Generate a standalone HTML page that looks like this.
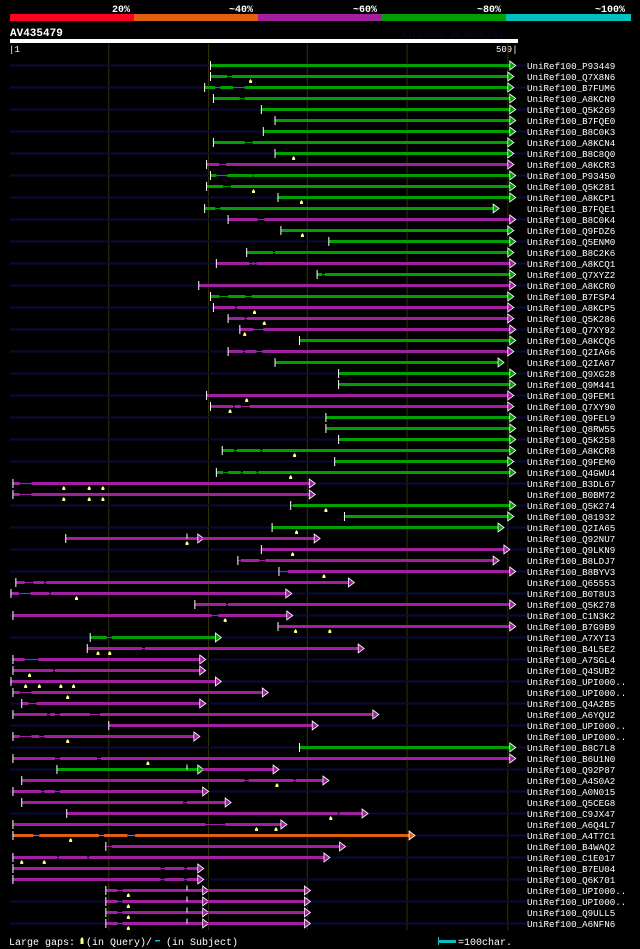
<!DOCTYPE html>
<html><head><meta charset="utf-8"><style>
html,body{margin:0;padding:0;background:#000;}
svg{display:block;}
text{font-family:"Liberation Mono",monospace;}
</style></head><body>
<svg id="chart" width="640" height="949" viewBox="0 0 640 949" xmlns="http://www.w3.org/2000/svg">
<rect x="0" y="0" width="640" height="949" fill="#000"/>
<g>
<text x="112" y="12" fill="#fff" font-size="10" font-weight="bold">20%</text>
<text x="229" y="12" fill="#fff" font-size="10" font-weight="bold">~40%</text>
<text x="353" y="12" fill="#fff" font-size="10" font-weight="bold">~60%</text>
<text x="477" y="12" fill="#fff" font-size="10" font-weight="bold">~80%</text>
<text x="595" y="12" fill="#fff" font-size="10" font-weight="bold">~100%</text>
<rect x="10" y="14" width="124" height="7" fill="#ff0022"/>
<rect x="134" y="14" width="124" height="7" fill="#e06010"/>
<rect x="258" y="14" width="124" height="7" fill="#a020a0"/>
<rect x="382" y="14" width="124" height="7" fill="#00a000"/>
<rect x="506" y="14" width="125" height="7" fill="#00c0c0"/>
</g>
<text x="10" y="36" fill="#fff" font-size="11" font-weight="bold">AV435479</text>
<text x="402" y="37" fill="#08082c" font-size="8">AlignView.pm Beta rel.7</text>
<rect x="10" y="39" width="508" height="4" fill="#fff"/>
<text x="9" y="52" fill="#fff" font-size="9">|1</text>
<text x="496" y="52" fill="#fff" font-size="9">509|</text>
<g id="grid"></g>
<g id="rows"></g>
<g>
<text x="9" y="945" fill="#fff" font-size="10">Large gaps:</text>
<path d="M82,937 L83.5,939 L83.5,944 L80.5,944 L80.5,939 Z" fill="#ffff80"/>
<text x="86" y="945" fill="#fff" font-size="10">(in Query)/</text>
<rect x="155" y="940" width="5" height="1.5" fill="#00c0c0"/>
<text x="166" y="945" fill="#fff" font-size="10">(in Subject)</text>
<rect x="439" y="940" width="17" height="3" fill="#00c0c0"/>
<rect x="438" y="937" width="1" height="8" fill="#00c0c0"/>
<text x="458" y="945" fill="#fff" font-size="10">=100char.</text>
</g>
</svg>
<script>
const names=["P93449","Q7X8N6","B7FUM6","A8KCN9","Q5K269","B7FQE0","B8C0K3","A8KCN4","B8C8Q0","A8KCR3","P93450","Q5K281","A8KCP1","B7FQE1","B8C0K4","Q9FDZ6","Q5ENM0","B8C2K6","A8KCQ1","Q7XYZ2","A8KCR0","B7FSP4","A8KCP5","Q5K286","Q7XY92","A8KCQ6","Q2IA66","Q2IA67","Q9XG28","Q9M441","Q9FEM1","Q7XY90","Q9FEL9","Q8RW55","Q5K258","A8KCR8","Q9FEM0","Q4GWU4","B3DL67","B0BM72","Q5K274","Q81932","Q2IA65","Q92NU7","Q9LKN9","B8LDJ7","B8BYV3","Q65553","B0T8U3","Q5K278","C1N3K2","B7G9B9","A7XYI3","B4L5E2","A7SGL4","Q4SUB2","UPI000..","UPI000..","Q4A2B5","A6YQU2","UPI000..","UPI000..","B8C7L8","B6U1N0","Q92P87","A4S0A2","A0N015","Q5CEG8","C9JX47","A6Q4L7","A4T7C1","B4WAQ2","C1E017","B7EU04","Q6K701","UPI000..","UPI000..","Q9ULL5","A6NFN6"];
const starts=[205,205,199,208,257,271,259,208,271,201,205,201,274,199,223,277,326,242,211,314,193,205,208,223,235,296,223,271,336,336,201,205,323,323,336,217,332,211,3,3,287,342,268,57,257,233,275,6,1,189,3,274,82,79,3,3,1,3,12,3,101,3,296,3,48,12,3,12,58,3,3,98,3,3,3,98,98,98,98];
const ends=[511,509,509,511,511,511,511,509,509,509,511,511,511,494,511,509,511,509,511,511,511,509,509,509,511,511,509,499,511,511,509,509,511,511,511,511,509,511,306,306,511,509,499,311,505,494,511,346,282,511,283,511,210,356,194,194,210,258,194,371,309,188,511,511,269,320,197,220,360,277,408,337,321,192,192,301,301,301,301];
const colors=["g","g","g","g","g","g","g","g","g","m","g","g","g","g","m","g","g","g","m","g","m","g","m","m","m","g","m","g","g","g","m","m","g","g","g","g","g","g","m","m","g","g","g","m","m","m","m","m","m","m","m","m","g","m","m","m","m","m","m","m","m","m","g","m","g","m","m","m","m","m","o","m","m","m","m","m","m","m","m"];
const gaps=[[],[[222,227]],[[210,215],[228,240]],[[235,240]],[],[],[],[[240,248]],[],[[214,221]],[[211,222],[248,249]],[[218,226]],[],[[210,215]],[[253,260]],[],[],[[269,271]],[[245,248],[250,252]],[[319,322]],[],[[214,223],[241,247]],[[230,232]],[[240,242]],[[249,259]],[],[[238,240],[252,258]],[],[],[],[],[[228,230],[236,245]],[],[],[],[[229,232],[256,258]],[],[[218,223],[236,238],[252,254]],[[10,22]],[[10,22]],[[287,289]],[],[],[],[],[[233,236],[255,261]],[[275,284]],[[15,24],[35,37]],[[9,21],[40,42]],[[221,223]],[[206,213]],[],[[99,104]],[[135,138]],[[15,29]],[[44,46]],[],[[10,22]],[[19,27]],[[38,41],[46,51],[82,92]],[],[[10,22],[30,35]],[],[[46,51],[89,93]],[],[[240,244],[290,292]],[[32,35],[46,51]],[[177,181]],[[335,337]],[[200,220]],[[24,30],[91,96],[120,128]],[[98,104]],[[48,50],[79,81]],[[154,158],[178,181]],[[154,158],[178,181]],[[110,115]],[[110,115]],[[110,115]],[[110,115]]];
const marks=[[],[246],[],[],[],[],[],[],[290],[],[],[249],[298],[],[],[299],[],[],[],[],[],[],[250],[260],[240],[],[],[],[],[],[242],[225],[],[],[],[291],[],[287],[55,81,95],[55,81,95],[323],[],[293],[181],[289],[],[321],[],[68],[],[220],[292,327],[],[90,102],[],[20],[16,30,52,65],[59],[],[],[],[59],[],[141],[],[273],[],[],[328],[252,272],[62],[],[12,35],[],[],[121],[121],[121],[121]];
const breaks=[[],[],[],[],[],[],[],[],[],[],[],[],[],[],[],[],[],[],[],[],[],[],[],[],[],[],[],[],[],[],[],[],[],[],[],[],[],[],[],[],[],[],[],[192],[],[],[],[],[],[],[],[],[],[],[],[],[],[],[],[],[],[],[],[],[192],[],[],[],[],[],[],[],[],[],[],[197],[197],[197],[197]];
const ticks=[[],[],[],[],[],[],[],[],[],[],[],[],[],[],[],[],[],[],[],[],[],[],[],[],[],[],[],[],[],[],[],[],[],[],[],[],[],[],[],[],[],[],[],[181],[],[],[],[],[],[],[],[],[],[],[],[],[],[],[],[],[],[],[],[],[181],[],[],[],[],[],[],[],[],[],[],[181],[181],[181],[181]];
const gridTicks=[101,203,304,406,509];

const NS="http://www.w3.org/2000/svg";
const palette={g:"#00a000",m:"#a020a0",o:"#e06010"};
function xs(p){return 10+p*0.978;}
function ys(i){return 65.5+i*11;}
function mk(tag,attrs,parent){const e=document.createElementNS(NS,tag);for(const k in attrs)e.setAttribute(k,attrs[k]);parent.appendChild(e);return e;}
const grid=document.getElementById('grid');
gridTicks.forEach(t=>{
  const l=mk('line',{x1:xs(t),x2:xs(t),y1:44,y2:930,stroke:'#333300','stroke-width':1},grid);
  
  
});
const rows=document.getElementById('rows');
names.forEach((n,i)=>{
  const y=ys(i);
  const g=mk('g',{},rows);
  
  
  if(i%2===0){mk('rect',{x:10,y:y-1,width:517,height:2,fill:'#0a0a3a'},g);}
  const s=starts[i],e=ends[i];
  const col=palette[colors[i]];
  const bks=breaks[i];
  const secondCol=(i===64)?palette.m:col;
  let pieces=[];
  if(bks.length){pieces.push([s,bks[0],col]);pieces.push([bks[0]+5,e,secondCol]);}
  else pieces.push([s,e,col]);
  pieces.forEach(pc=>{
    let cur=pc[0];
    const gs=gaps[i].filter(q=>q[0]>=pc[0]&&q[1]<=pc[1]);
    gs.forEach(q=>{
      if(q[0]>cur)mk('rect',{x:xs(cur),y:y-1.5,width:xs(q[0])-xs(cur),height:3,fill:pc[2]},g);
      mk('rect',{x:xs(q[0]),y:y-0.5,width:xs(q[1])-xs(q[0]),height:1,fill:pc[2]},g);
      cur=q[1];
    });
    mk('rect',{x:xs(cur),y:y-1.5,width:xs(pc[1])-xs(cur),height:3,fill:pc[2]},g);
    const ax=xs(pc[1]);
    mk('path',{d:`M${ax},${y-4.5} L${ax+6},${y} L${ax},${y+4.5} Z`,fill:pc[2],stroke:'#fff','stroke-width':0.8},g);
  });
  mk('rect',{x:xs(s)-0.5,y:y-4.5,width:1,height:9,fill:'#fff'},g);
  ticks[i].forEach(t=>{mk('rect',{x:xs(t)-0.5,y:y-5,width:1,height:5,fill:'#fff'},g);});
  marks[i].forEach(m=>{
    const mx=xs(m);
    const p=mk('path',{d:`M${mx},${y+2.5} L${mx+1.5},${y+4.5} L${mx+1.5},${y+6.5} L${mx-1.5},${y+6.5} L${mx-1.5},${y+4.5} Z`,fill:'#ffff80'},g);
    
    
  });
  const t=mk('text',{x:527,y:y+3.5,fill:'#fff','font-size':9.2},g);
  t.textContent='UniRef100_'+n;
});
</script>
</body></html>
